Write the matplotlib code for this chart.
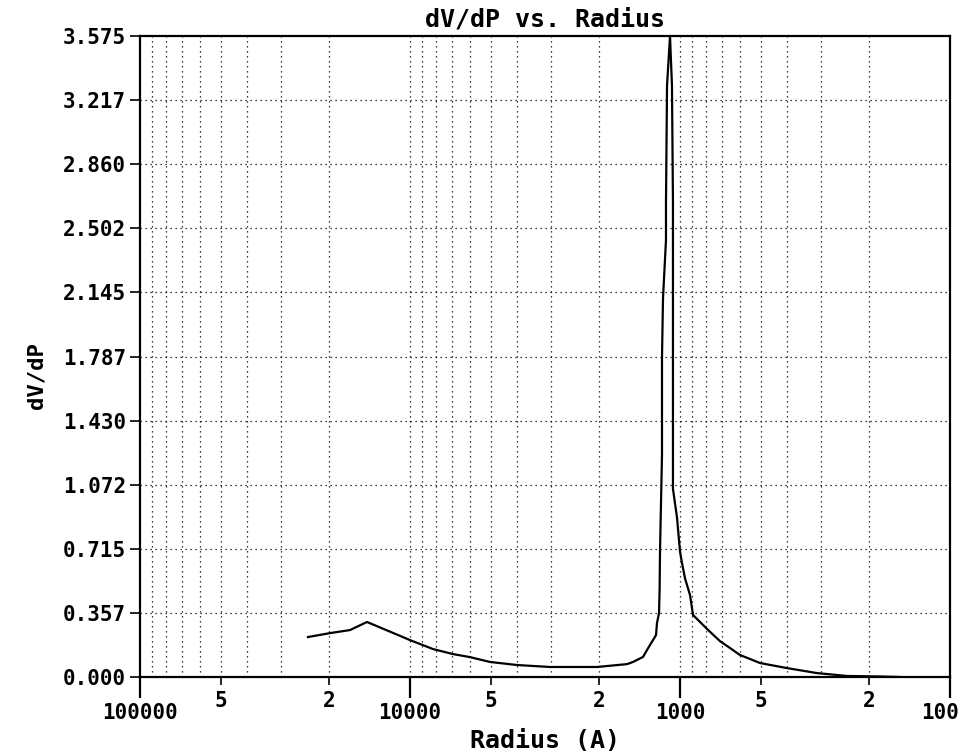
import numpy as np
import matplotlib
matplotlib.use("Agg")
import matplotlib.pyplot as plt
import matplotlib.transforms as mtransforms
from matplotlib.ticker import FixedLocator, FixedFormatter

# values
radius = [23870, 19780, 16680, 14430, 10000, 8220, 6930, 5995, 5055, 4015,
          3030, 2030, 1571, 1493, 1371, 1314, 1259, 1227, 1217, 1196, 1190,
          1186, 1166, 1166, 1166, 1156, 1127, 1127, 1117, 1089,
          1071, 1062, 1062, 1062, 1062, 1026, 1000, 983, 958, 918, 895,
          794, 711, 653, 600, 505, 402, 311, 241, 182, 153]
dvdp = [0.223, 0.245, 0.262, 0.307, 0.206, 0.156, 0.128, 0.111, 0.084, 0.067,
        0.056, 0.056, 0.072, 0.084, 0.112, 0.160, 0.206, 0.234, 0.300, 0.357, 0.485,
        0.700, 1.240, 1.417, 1.780, 2.114, 2.437, 2.650, 3.300, 3.575,
        3.300, 2.650, 1.780, 1.240, 1.050, 0.890, 0.700, 0.635, 0.550, 0.457, 0.346,
        0.268, 0.200, 0.162, 0.123, 0.078, 0.050, 0.022, 0.006, 0.003, 0.000]

y_ticks = [0.0, 0.357, 0.715, 1.072, 1.430, 1.787, 2.145, 2.502, 2.860, 3.217, 3.575]
y_labels = ["0.000", "0.357", "0.715", "1.072", "1.430", "1.787",
            "2.145", "2.502", "2.860", "3.217", "3.575"]
x_major = [100000, 10000, 1000, 100]
x_major_labels = ["100000", "10000", "1000", "100"]
x_minor = [50000, 20000, 5000, 2000, 500, 200]
x_minor_labels = ["5", "2", "5", "2", "5", "2"]

font = "DejaVu Sans Mono"

fig = plt.figure(figsize=(9.63, 7.52), dpi=100)
ax = fig.add_axes([0.1454, 0.0997, 0.8411, 0.8523])

ax.set_xscale("log")
ax.set_xlim(100000, 100)
ax.set_ylim(0, 3.575)

# dotted grid: every 2..9 multiple plus the decades
for dec in [10000, 1000, 100]:
    for m in range(1, 10):
        v = dec * m
        if 100 < v < 100000:
            ax.axvline(v, color="black", linestyle=(0, (1, 3)), linewidth=0.9, zorder=1)
for yt in y_ticks[1:-1]:
    ax.axhline(yt, color="black", linestyle=(0, (1, 3)), linewidth=0.9, zorder=1)

ax.plot(radius, dvdp, color="black", linewidth=1.6, zorder=3)

ax.xaxis.set_major_locator(FixedLocator(x_major))
ax.xaxis.set_major_formatter(FixedFormatter(x_major_labels))
ax.xaxis.set_minor_locator(FixedLocator(x_minor))
ax.xaxis.set_minor_formatter(FixedFormatter(x_minor_labels))
ax.set_yticks(y_ticks)
ax.set_yticklabels(y_labels)

ax.tick_params(axis="x", which="major", direction="out", length=15, width=1.6, pad=4)
ax.tick_params(axis="x", which="minor", direction="out", length=6, width=1.2, pad=4)
ax.tick_params(axis="y", which="major", direction="out", length=7, width=1.2, pad=3)

for lab in ax.get_xticklabels() + ax.get_yticklabels() + ax.get_xticklabels(minor=True):
    lab.set_fontfamily(font)
    lab.set_fontweight("bold")
    lab.set_fontsize(15)
    lab.set_color("black")

# last label "100" sits a bit left of its tick, as in the original
last = ax.get_xticklabels()[-1]
last.set_transform(last.get_transform() +
                   mtransforms.ScaledTranslation(-10 / 100, 0, fig.dpi_scale_trans))

for sp in ax.spines.values():
    sp.set_linewidth(1.6)
    sp.set_color("black")

ax.set_title("dV/dP vs. Radius", fontfamily=font, fontweight="bold", fontsize=18, pad=7)
ax.set_xlabel("Radius (A)", fontfamily=font, fontweight="bold", fontsize=18, labelpad=4)
ax.set_ylabel("dV/dP", fontfamily=font, fontweight="bold", fontsize=16)
ax.yaxis.set_label_coords(-0.115, 0.47)

fig.savefig("out.png", dpi=100, facecolor="white")
